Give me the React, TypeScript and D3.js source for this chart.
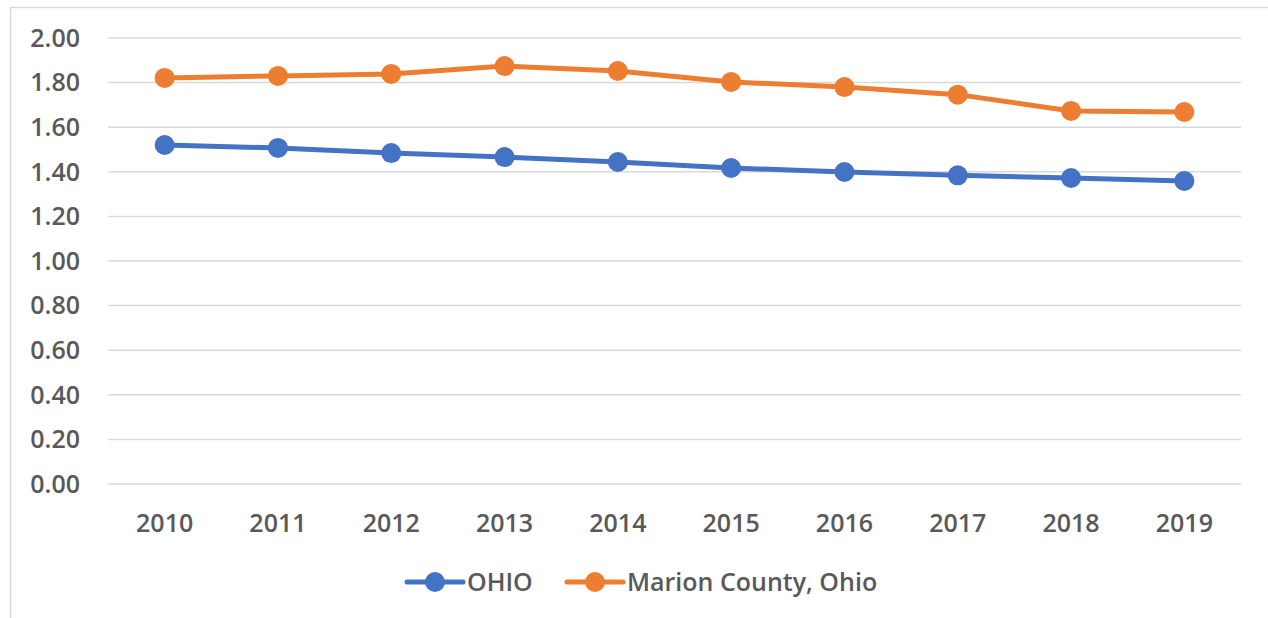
import React, { useEffect, useRef } from "react";
import * as d3 from "d3";

const years = ["2010", "2011", "2012", "2013", "2014", "2015", "2016", "2017", "2018", "2019"];
const ohio = [1.52, 1.507, 1.484, 1.466, 1.444, 1.417, 1.399, 1.384, 1.372, 1.359];
const marion = [1.821, 1.83, 1.839, 1.874, 1.852, 1.803, 1.78, 1.746, 1.673, 1.668];
const yTicks = [0, 0.2, 0.4, 0.6, 0.8, 1.0, 1.2, 1.4, 1.6, 1.8, 2.0];
const seriesNames = ["OHIO", "Marion County, Ohio"];
const seriesColors = ["#4472C4", "#ED7D31"];

const W = 1268;
const H = 618;
const FONT = "'Open Sans', sans-serif";
const FS = 25;

export default function App() {
  const ref = useRef<SVGSVGElement>(null);

  useEffect(() => {
    const svg = d3.select(ref.current);
    svg.selectAll("*").remove();

    const x = d3.scalePoint().domain(years).range([108, 1241]).padding(0.5);
    const y = d3.scaleLinear().domain([0, 2]).range([484, 38]);

    // outer frame (only left and top visible)
    svg.append("path")
      .attr("d", `M10.5,${H} L10.5,7.5 L${W},7.5`)
      .attr("fill", "none")
      .attr("stroke", "#d9d9d9")
      .attr("stroke-width", 1.5);

    // gridlines
    svg.append("g")
      .selectAll("line")
      .data(yTicks)
      .join("line")
      .attr("x1", 108)
      .attr("x2", 1241)
      .attr("y1", (d) => y(d))
      .attr("y2", (d) => y(d))
      .attr("stroke", "#d9d9d9")
      .attr("stroke-width", 1.5);

    // y labels
    svg.append("g")
      .selectAll("text")
      .data(yTicks)
      .join("text")
      .attr("x", 80)
      .attr("y", (d) => y(d))
      .attr("dy", "0.35em")
      .attr("text-anchor", "end")
      .attr("font-family", FONT)
      .attr("font-weight", 600)
      .attr("font-size", FS)
      .attr("fill", "#595959")
      .text((d) => d3.format(".2f")(d));

    // x labels
    svg.append("g")
      .selectAll("text")
      .data(years)
      .join("text")
      .attr("x", (d) => x(d)!)
      .attr("y", 532)
      .attr("text-anchor", "middle")
      .attr("font-family", FONT)
      .attr("font-weight", 600)
      .attr("font-size", FS)
      .attr("fill", "#595959")
      .text((d) => d);

    const line = d3.line<number>()
      .x((_, i) => x(years[i])!)
      .y((d) => y(d));

    [ohio, marion].forEach((vals, si) => {
      const g = svg.append("g");
      g.append("path")
        .datum(vals)
        .attr("d", line)
        .attr("fill", "none")
        .attr("stroke", seriesColors[si])
        .attr("stroke-width", 5)
        .attr("stroke-linejoin", "round")
        .attr("stroke-linecap", "round");
      g.selectAll("circle")
        .data(vals)
        .join("circle")
        .attr("cx", (_, i) => x(years[i])!)
        .attr("cy", (d) => y(d))
        .attr("r", 10)
        .attr("fill", seriesColors[si]);
    });

    // legend
    const legendX = [407, 567];
    const legend = svg.append("g");
    seriesNames.forEach((name, i) => {
      const lx = legendX[i];
      legend.append("line")
        .attr("x1", lx).attr("x2", lx + 56)
        .attr("y1", 582).attr("y2", 582)
        .attr("stroke", seriesColors[i])
        .attr("stroke-width", 5)
        .attr("stroke-linecap", "round");
      legend.append("circle")
        .attr("cx", lx + 28).attr("cy", 582).attr("r", 10)
        .attr("fill", seriesColors[i]);
      legend.append("text")
        .attr("x", lx + 60)
        .attr("y", 582)
        .attr("dy", "0.35em")
        .attr("font-family", FONT)
        .attr("font-weight", 600)
        .attr("font-size", FS)
        .attr("fill", "#595959")
        .text(name);
    });
  }, []);

  return (
    <svg
      ref={ref}
      width={W}
      height={H}
      style={{ position: "absolute", left: 0, top: 0, background: "#fff" }}
    />
  );
}
